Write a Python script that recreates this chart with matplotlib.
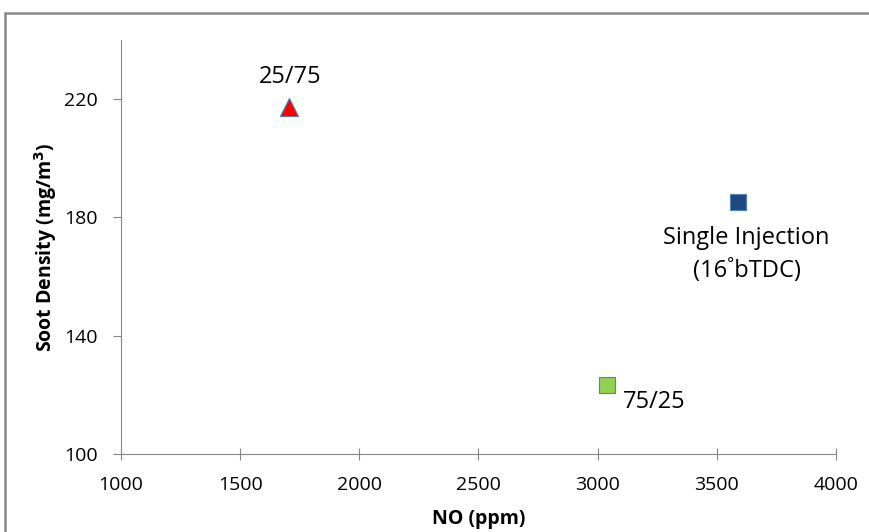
import matplotlib
matplotlib.use("Agg")
import matplotlib.pyplot as plt
from matplotlib.patches import Rectangle

# Data
labels = ["25/75", "Single Injection\n(16˚bTDC)", "75/25"]
no_ppm = [1705, 3590, 3040]
soot = [217.3, 185.2, 123.5]
markers = ["^", "s", "s"]
colors = ["#ff0000", "#1f497d", "#92d050"]
edgecolors = ["#4f81bd", "#4f81bd", "#4f81bd"]
xticks = [1000, 1500, 2000, 2500, 3000, 3500, 4000]
yticks = [100, 140, 180, 220]

plt.rcParams['font.family'] = ['Open Sans', 'DejaVu Sans']

W, H = 869, 532
fig = plt.figure(figsize=(W/100, H/100), dpi=100)
fig.patches.append(Rectangle((5/W, -0.1), 1.2, 1 - 13/H + 0.1, transform=fig.transFigure,
                             fill=False, edgecolor="#868686", linewidth=1.8))
ax = fig.add_axes([121/W, 1 - 454/H, (836-121)/W, (454-40)/H])

for x, y, m, c, ec in zip(no_ppm, soot, markers, colors, edgecolors):
    ax.scatter([x], [y], marker=m, s=170 if m == "^" else 120, color=c,
               edgecolors=ec, linewidths=0.8, zorder=3)

ax.set_xlim(1000, 4000)
ax.set_ylim(100, 240)
ax.set_xticks(xticks)
ax.set_yticks(yticks)
ax.tick_params(axis='both', labelsize=14, colors="#868686", labelcolor="#000000",
               direction='inout', length=9, width=0.8)
ax.tick_params(axis='x', pad=11)
ax.tick_params(axis='y', direction='out', length=6, pad=11)
for s in ["top", "right"]:
    ax.spines[s].set_visible(False)
for s in ["left", "bottom"]:
    ax.spines[s].set_color("#868686")
    ax.spines[s].set_linewidth(0.8)

ax.set_xlabel("NO (ppm)", fontsize=14, fontweight="bold", labelpad=11)
ax.set_ylabel("Soot Density (mg/m$\\mathbf{^3}$)", fontsize=14, fontweight="bold", labelpad=3)

ax.annotate(labels[0], (no_ppm[0], soot[0]), xytext=(1, 13), textcoords="offset points",
            ha="center", va="bottom", fontsize=17)
ax.annotate(labels[1], (no_ppm[1], soot[1]), xytext=(6, -17.5), textcoords="offset points",
            ha="center", va="top", fontsize=17, linespacing=1.48)
ax.annotate(labels[2], (no_ppm[2], soot[2]), xytext=(11, -4), textcoords="offset points",
            ha="left", va="top", fontsize=17)

fig.savefig("out.png", dpi=100)
